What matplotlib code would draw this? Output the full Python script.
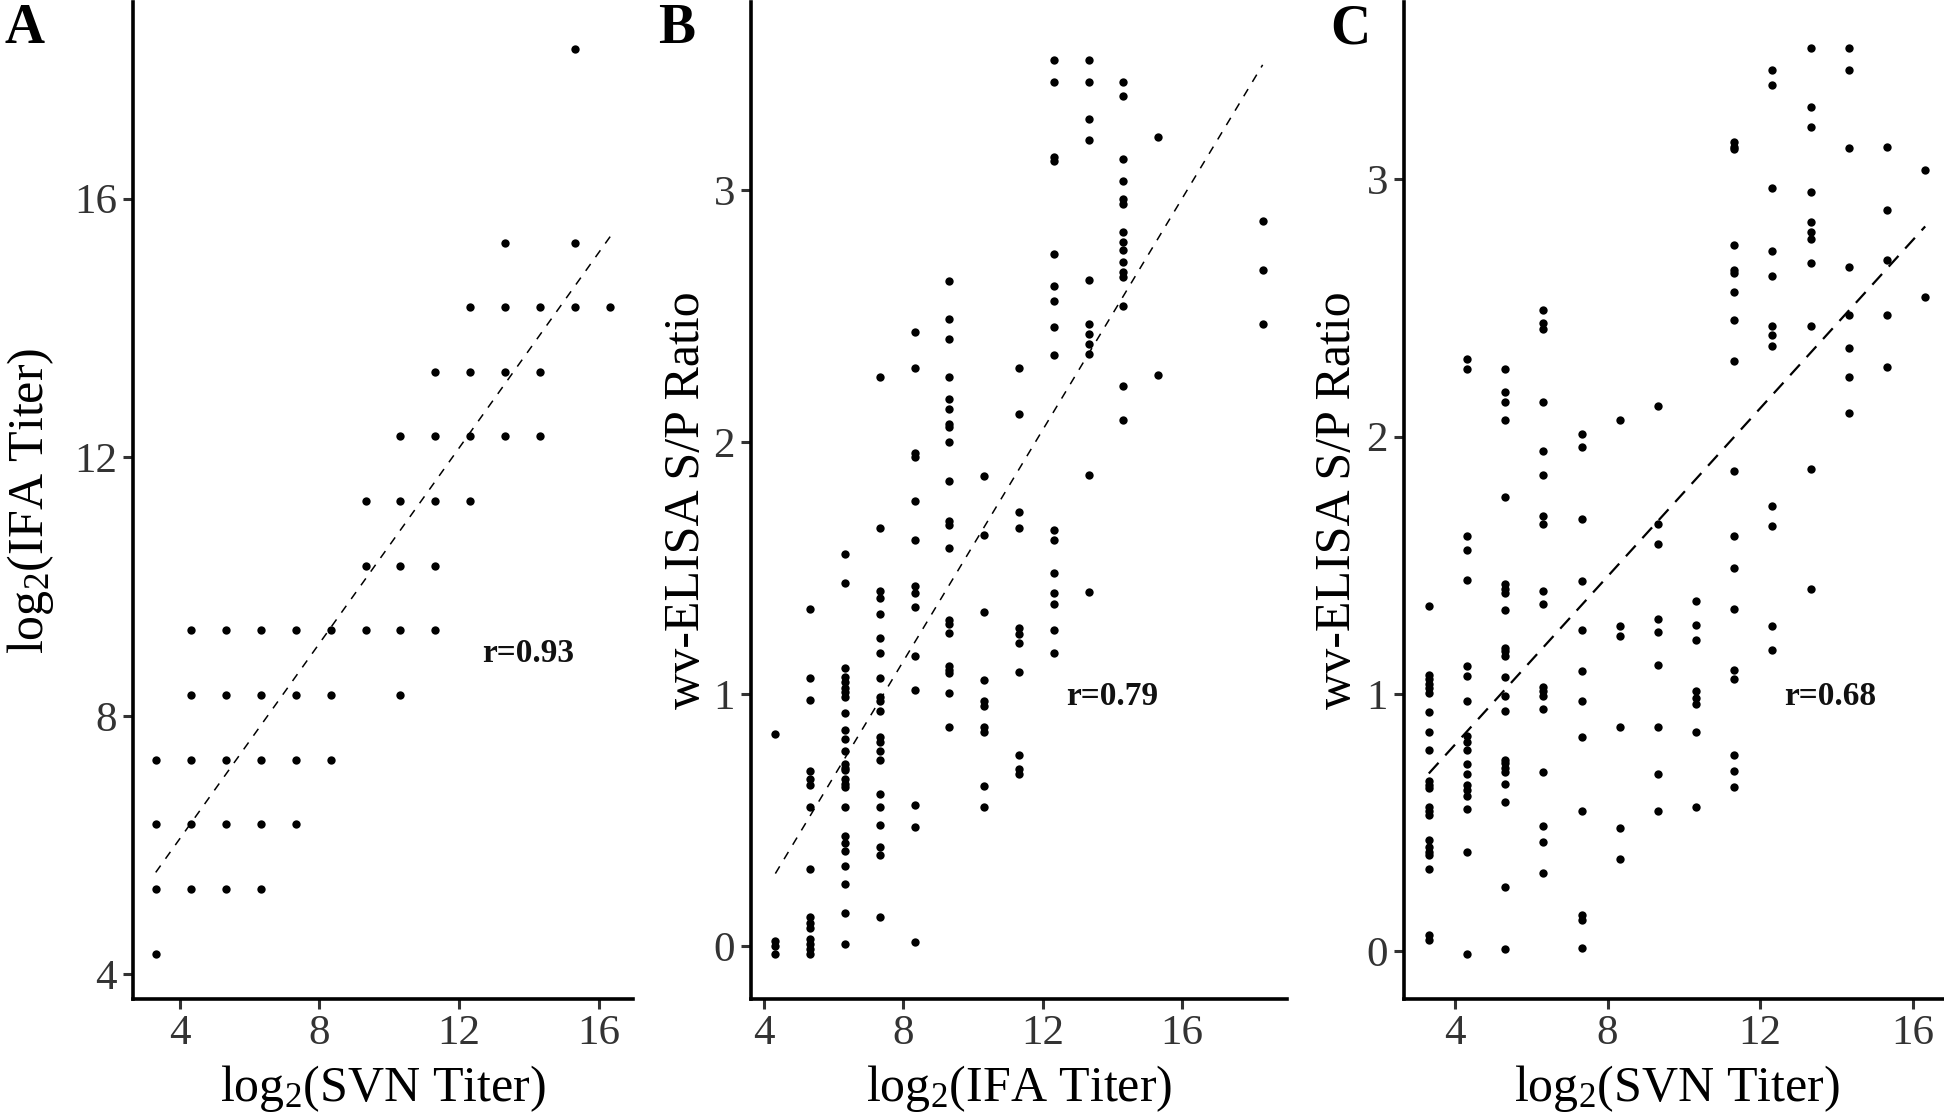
import numpy as np
import matplotlib
matplotlib.use('Agg')
import matplotlib.pyplot as plt

plt.rcParams['font.family'] = ['Liberation Serif', 'DejaVu Serif']
plt.rcParams['mathtext.fontset'] = 'custom'
plt.rcParams['mathtext.rm'] = 'Liberation Serif'
plt.rcParams['mathtext.it'] = 'Liberation Serif:italic'
plt.rcParams['mathtext.bf'] = 'Liberation Serif:bold'

# ---------------- data ----------------
# Panel A: log2(SVN) vs log2(IFA)
A_svn = [3.32,
         3.32, 4.32, 5.32, 6.32,
         3.32, 4.32, 5.32, 6.32, 7.32,
         3.32, 4.32, 5.32, 6.32, 7.32, 8.32,
         4.32, 5.32, 6.32, 7.32, 8.32, 10.32,
         4.32, 5.32, 6.32, 7.32, 8.32, 9.32, 10.32, 11.32,
         9.32, 10.32, 11.32,
         9.32, 10.32, 11.32, 12.32,
         10.32, 11.32, 12.32, 13.32, 14.32,
         11.32, 12.32, 13.32, 14.32,
         12.32, 13.32, 14.32, 15.32, 16.32,
         13.32, 15.32,
         15.32]
A_ifa = [4.32,
         5.32, 5.32, 5.32, 5.32,
         6.32, 6.32, 6.32, 6.32, 6.32,
         7.32, 7.32, 7.32, 7.32, 7.32, 7.32,
         8.32, 8.32, 8.32, 8.32, 8.32, 8.32,
         9.32, 9.32, 9.32, 9.32, 9.32, 9.32, 9.32, 9.32,
         10.32, 10.32, 10.32,
         11.32, 11.32, 11.32, 11.32,
         12.32, 12.32, 12.32, 12.32, 12.32,
         13.32, 13.32, 13.32, 13.32,
         14.32, 14.32, 14.32, 14.32, 14.32,
         15.32, 15.32,
         18.32]

# Panel B: log2(IFA) columns with wv-ELISA S/P ratios
B_ifa_levels = [4.32, 5.32, 6.32, 7.32, 8.32, 9.32, 10.32, 11.32,
                12.32, 13.32, 14.32, 15.32, 18.32]
B_sp = [
    [0.842, 0.02, 0.0, -0.03],
    [1.339, 1.062, 0.976, 0.695, 0.664, 0.641, 0.553, 0.305, 0.115, 0.09,
     0.07, 0.03, 0.01, -0.01, -0.03],
    [1.554, 1.441, 1.105, 1.066, 1.046, 1.026, 1.007, 0.987, 0.925, 0.859,
     0.822, 0.776, 0.724, 0.708, 0.697, 0.664, 0.645, 0.632, 0.553, 0.437,
     0.408, 0.379, 0.318, 0.246, 0.132, 0.009],
    [2.26, 1.657, 1.41, 1.382, 1.318, 1.224, 1.163, 1.062, 0.987, 0.974,
     0.934, 0.829, 0.809, 0.776, 0.737, 0.603, 0.55, 0.48, 0.395, 0.362, 0.114],
    [2.437, 2.293, 1.957, 1.94, 1.768, 1.61, 1.43, 1.401, 1.345, 1.151,
     1.016, 0.558, 0.474, 0.016],
    [2.64, 2.487, 2.41, 2.26, 2.17, 2.133, 2.07, 2.06, 2.0, 1.845, 1.686,
     1.67, 1.578, 1.292, 1.279, 1.243, 1.112, 1.095, 1.082, 1.003, 0.868],
    [1.865, 1.63, 1.326, 1.055, 0.971, 0.954, 0.868, 0.849, 0.634, 0.55],
    [2.293, 2.11, 1.722, 1.657, 1.263, 1.237, 1.204, 1.086, 0.757, 0.704, 0.684],
    [3.516, 3.43, 3.13, 3.117, 2.748, 2.619, 2.559, 2.457, 2.346, 1.65, 1.61,
     1.48, 1.401, 1.359, 1.254, 1.164],
    [3.516, 3.43, 3.28, 3.20, 2.644, 2.468, 2.43, 2.39, 2.35, 1.87, 1.404],
    [3.43, 3.375, 3.123, 3.034, 2.964, 2.944, 2.832, 2.792, 2.762, 2.715,
     2.673, 2.656, 2.54, 2.221, 2.086],
    [3.21, 2.266],
    [2.878, 2.683, 2.469],
]

# Panel C: log2(SVN) columns with wv-ELISA S/P ratios
C_svn_levels = [3.32, 4.32, 5.32, 6.32, 7.32, 8.32, 9.32, 10.32, 11.32,
                12.32, 13.32, 14.32, 15.32, 16.32]
C_sp = [
    [1.343, 1.074, 1.057, 1.039, 1.022, 1.003, 0.929, 0.851, 0.782, 0.662,
     0.645, 0.632, 0.561, 0.545, 0.529, 0.431, 0.405, 0.386, 0.373, 0.318,
     0.061, 0.042],
    [2.301, 2.264, 1.614, 1.558, 1.444, 1.106, 1.068, 0.973, 0.834, 0.812,
     0.782, 0.726, 0.687, 0.645, 0.626, 0.604, 0.553, 0.386, -0.013],
    [2.264, 2.174, 2.135, 2.065, 1.767, 1.425, 1.408, 1.392, 1.327, 1.178,
     1.165, 1.148, 1.064, 0.992, 0.934, 0.743, 0.73, 0.71, 0.694, 0.649,
     0.578, 0.247, 0.006],
    [2.492, 2.443, 2.417, 2.135, 1.944, 1.85, 1.693, 1.66, 1.401, 1.349,
     1.025, 1.009, 0.992, 0.942, 0.694, 0.486, 0.425, 0.304],
    [2.01, 1.958, 1.679, 1.438, 1.249, 1.087, 0.973, 0.831, 0.545, 0.139,
     0.119, 0.013],
    [2.065, 1.265, 1.226, 0.87, 0.477, 0.356],
    [2.118, 1.66, 1.583, 1.291, 1.24, 1.113, 0.87, 0.687, 0.545],
    [1.362, 1.266, 1.21, 1.009, 0.985, 0.962, 0.853, 0.561],
    [3.144, 3.128, 3.117, 2.746, 2.649, 2.635, 2.561, 2.454, 2.294, 1.868,
     1.614, 1.49, 1.33, 1.094, 1.057, 0.762, 0.701, 0.636],
    [3.426, 3.368, 2.968, 2.721, 2.625, 2.429, 2.396, 2.353, 1.729, 1.653,
     1.262, 1.171],
    [3.51, 3.281, 3.204, 2.95, 2.836, 2.794, 2.767, 2.676, 2.429, 1.875, 1.409],
    [3.51, 3.426, 3.122, 2.658, 2.472, 2.346, 2.232, 2.09],
    [3.128, 2.881, 2.688, 2.472, 2.269],
    [3.037, 2.542],
]

r_labels = ['r=0.93', 'r=0.79', 'r=0.68']
panel_letters = ['A', 'B', 'C']
x_titles = ['log$_{\\mathrm{2}}$(SVN Titer)', 'log$_{\\mathrm{2}}$(IFA Titer)',
            'log$_{\\mathrm{2}}$(SVN Titer)']
y_titles = ['log$_{\\mathrm{2}}$(IFA Titer)', 'wv-ELISA S/P Ratio',
            'wv-ELISA S/P Ratio']
x_ticks = [4, 8, 12, 16]
y_ticks = [[4, 8, 12, 16], [0, 1, 2, 3], [0, 1, 2, 3]]


def expand(cols, vals):
    xs, ys = [], []
    for lv, vs in zip(cols, vals):
        xs.extend([lv] * len(vs))
        ys.extend(vs)
    return np.array(xs), np.array(ys)


Bx, By = expand(B_ifa_levels, B_sp)
Cx, Cy = expand(C_svn_levels, C_sp)
datasets = [(np.array(A_svn), np.array(A_ifa)), (Bx, By), (Cx, Cy)]

# ---------------- layout ----------------
W, H = 1944, 1115
DPI = 100
fig = plt.figure(figsize=(W / DPI, H / DPI), dpi=DPI)
fig.patch.set_facecolor('white')


def rect(l, r, t, b):
    return [l / W, 1 - b / H, (r - l) / W, (b - t) / H]


def fx(px):
    return px / W


def fy(py):
    return 1 - py / H


panels = [
    dict(box=(133, 633, 2, 999), xlim=(2.67, 16.97), ylim=(3.62, 19.04),
         rpos=(13.96, 8.97), lw=1.1, dash=(5.5, 5.5), letter_x=4,
         ylab_x=31),
    dict(box=(751, 1287, 2, 999), xlim=(3.62, 19.02), ylim=(-0.21, 3.746),
         rpos=(14.0, 0.99), lw=1.1, dash=(5.5, 5.5), letter_x=658,
         ylab_x=687),
    dict(box=(1404, 1950, 2, 999), xlim=(2.67, 16.97), ylim=(-0.187, 3.69),
         rpos=(13.82, 0.99), lw=1.6, dash=(6.5, 4.5), letter_x=1330,
         ylab_x=1338),
]

tick_col = '#333333'
for i, p in enumerate(panels):
    l, r, t, b = p['box']
    ax = fig.add_axes(rect(l, r, t, b))
    x, y = datasets[i]
    ax.scatter(x, y, s=36, c='black', linewidths=0, zorder=3)
    m, c = np.polyfit(x, y, 1)
    xs = np.array([x.min(), x.max()])
    ax.plot(xs, m * xs + c, color='black', lw=p['lw'],
            linestyle=(0, p['dash']), zorder=2)
    ax.set_xlim(*p['xlim'])
    ax.set_ylim(*p['ylim'])
    ax.set_xticks(x_ticks)
    ax.set_yticks(y_ticks[i])
    for s in ['top', 'right']:
        ax.spines[s].set_visible(False)
    for s in ['left', 'bottom']:
        ax.spines[s].set_linewidth(2.6)
        ax.spines[s].set_color('black')
        ax.spines[s].set_capstyle('projecting')
    ax.tick_params(direction='out', length=7.5, width=2.2, color=tick_col,
                   labelsize=31, labelcolor=tick_col, pad=4)
    ax.text(p['rpos'][0], p['rpos'][1], r_labels[i], fontsize=24,
            fontweight='bold', ha='center', va='center', color='#111111')
    # panel letter
    fig.text(fx(p['letter_x']), fy(43), panel_letters[i], fontsize=40,
             fontweight='bold', ha='left', va='baseline')
    # axis titles
    fig.text(fx((l + r) / 2), fy(1101), x_titles[i], fontsize=36,
             ha='center', va='baseline')
    fig.text(fx(p['ylab_x']), fy((t + b) / 2), y_titles[i], fontsize=36,
             ha='center', va='center', rotation=90)

fig.savefig('out.png', dpi=DPI, facecolor='white')
